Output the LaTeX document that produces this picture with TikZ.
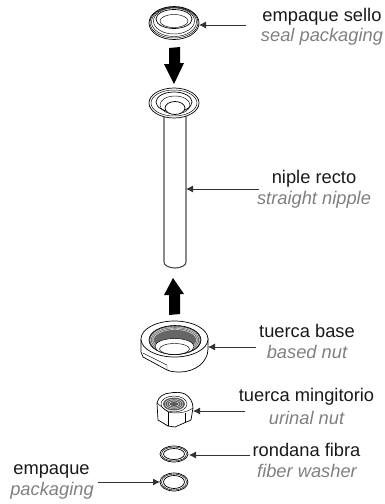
\documentclass[tikz,border=0pt]{standalone}
\usepackage{fontspec}
\setmainfont{Liberation Sans}
\usetikzlibrary{arrows.meta}
\definecolor{subgray}{gray}{0.5}
\tikzset{
 x=1pt,y=-1pt,
 part/.style={draw=black,line width=0.7pt,fill=white},
 thin part/.style={draw=black,line width=0.45pt},
 es/.style={font=\fontsize{18.3}{20}\selectfont,text=black!90,inner sep=0pt,anchor=center},
 en/.style={font=\fontsize{18.3}{20}\selectfont\itshape,text=subgray,inner sep=0pt,anchor=center},
 leader/.style={draw=black!80,line width=0.8pt,-{Latex[length=7pt,width=7pt]}},
 bigarrow/.style={fill=black,draw=none}
}
\begin{document}
\begin{tikzpicture}
\useasboundingbox (0,0) rectangle (385,504);
% tube
\draw[draw=black!70,line width=1.1pt,fill=white] (164,110) -- (164,262) arc[x radius=11,y radius=6,start angle=180,end angle=0] -- (186,110);
% flange
\draw[part] (174,103) ellipse[x radius=25,y radius=15];
\draw[thin part] (174,103) ellipse[x radius=23,y radius=13];
\draw[part] (174,102) ellipse[x radius=18,y radius=10];
\draw[thin part] (175,105) ellipse[x radius=15,y radius=9];
\draw[part] (175,108) ellipse[x radius=10,y radius=6.5];
% seal
\draw[part] (174,23) ellipse[x radius=25,y radius=16.5];
\draw[thin part] (174,22.5) ellipse[x radius=24,y radius=15.5];
\draw[thin part] (174,22) ellipse[x radius=22.5,y radius=14.5];
\draw[thin part] (174,21) ellipse[x radius=20.5,y radius=13];
\draw[part] (174,19) ellipse[x radius=18,y radius=9.5];
\draw[thin part] (174,21) ellipse[x radius=14,y radius=6.5];
% arrows
\fill[bigarrow] (169,48) -- (180,47) -- (180,63) -- (184,63) -- (174,84) -- (164,64) -- (169,64) -- cycle;
\fill[bigarrow] (169,315) -- (180,314) -- (180,294) -- (184,294) -- (173,278) -- (164,295) -- (169,295) -- cycle;
% base nut
\draw[part] (141,339) -- (141,352) -- (143,357) -- (167,370) .. controls (172,372) and (176,372) .. (180,372) .. controls (195,372) and (208,362) .. (208,349) -- (208,338);
\draw[part] (174.5,339) ellipse[x radius=33.5,y radius=18];
\draw[thin part] (143,353) -- (167,365) -- (167,370);
\fill[black!60] (175,340) ellipse[x radius=26,y radius=14.5];
\foreach \r/\q in {24.5/13,23/11.8,21.5/10.5}{\draw[white,line width=0.35pt] (175,340) ellipse[x radius=\r,y radius=\q];}
\draw[black,line width=0.6pt] (175,340) ellipse[x radius=26,y radius=14.5];
\fill[white] (174.5,346.5) ellipse[x radius=19.5,y radius=8];
\draw[thin part] (174.5,346.5) ellipse[x radius=19.5,y radius=8];
\draw[thin part] (174.5,349) ellipse[x radius=15,y radius=5.5];
% hex nut
\draw[part] (157,403) .. controls (158,397) and (164,393) .. (170,393) .. controls (175,392) and (181,392) .. (185,394) .. controls (190,397) and (193,402) .. (193,408) -- (191,420) -- (175,427) -- (168,426) -- (158,420) -- cycle;
\draw[thin part] (157,403) -- (168,412) .. controls (176,414) and (186,413) .. (193,408);
\draw[thin part] (168,412) -- (168,426);
\draw[thin part] (185,413) -- (185,423);
\fill[black!65] (174,404) ellipse[x radius=11,y radius=6.5];
\foreach \r/\q in {9/5,7/3.6,5/2.3}{\draw[white,line width=0.3pt] (174,404) ellipse[x radius=\r,y radius=\q];}
\draw[thin part] (174,404) ellipse[x radius=13,y radius=8];
% washers
\draw[part] (174,454) ellipse[x radius=14,y radius=8];
\draw[thin part] (174,454) ellipse[x radius=12.5,y radius=7];
\draw[part] (174,454) ellipse[x radius=10.5,y radius=5.5];
\draw[part] (174,482) ellipse[x radius=14,y radius=9];
\draw[thin part] (174,482) ellipse[x radius=12.5,y radius=8];
\draw[part] (174,482) ellipse[x radius=10.5,y radius=6.5];
% labels
\node[es] (l1) at (322,17) {empaque sello};
\node[en] (t1) at (322,37) {seal packaging};
\node[es] (l2) at (314,179) {niple recto};
\node[en] (t2) at (314,200) {straight nipple};
\node[es] (l3) at (307,331) {tuerca base};
\node[en] (t3) at (307,352) {based nut};
\node[es] (l4) at (306.5,397) {tuerca mingitorio};
\node[en] (t4) at (306.5,418) {urinal nut};
\node[es] (l5) at (306.5,450) {rondana fibra};
\node[en] (t5) at (307,471) {fiber washer};
\node[es] (l6) at (51.5,471) {empaque};
\node[en] (t6) at (52,491) {packaging};
% leader ends
\coordinate (a1) at (246,25); \coordinate (b1) at (199,25);
\coordinate (a2) at (259,189); \coordinate (b2) at (186,189);
\coordinate (a3) at (256,347); \coordinate (b3) at (208,347);
\coordinate (a4) at (245,411); \coordinate (b4) at (193,411);
\coordinate (a5) at (250,455); \coordinate (b5) at (189,455);
\coordinate (a6) at (98,482); \coordinate (b6) at (160,482);
\foreach \i in {1,...,6}{\draw[leader] (a\i) -- (b\i);}
\end{tikzpicture}
\end{document}
